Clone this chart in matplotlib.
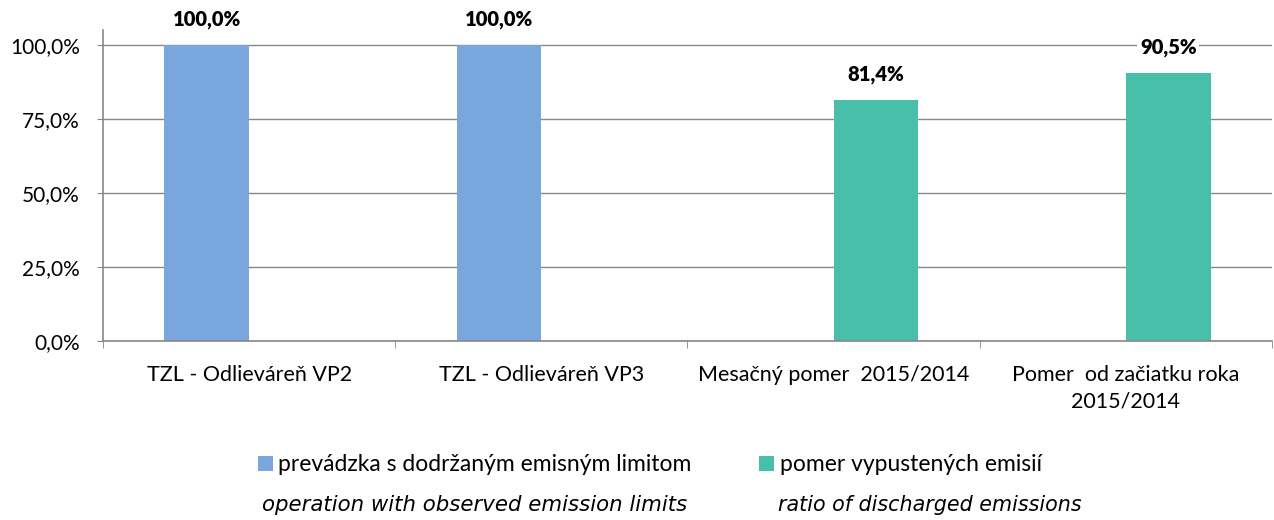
import numpy as np
import matplotlib
matplotlib.use("Agg")
import matplotlib.pyplot as plt
from matplotlib.ticker import FuncFormatter

plt.rcParams['font.family'] = ['Lato', 'DejaVu Sans']

# data
categories = ["TZL - Odlieváreň VP2", "TZL - Odlieváreň VP3",
              "Mesačný pomer  2015/2014", "Pomer  od začiatku roka\n2015/2014"]
limit_ok = [1.0, 1.0, np.nan, np.nan]        # prevádzka s dodržaným emisným limitom
emis_ratio = [np.nan, np.nan, 0.814, 0.905]  # pomer vypustených emisií
series_names = ["prevádzka s dodržaným emisným limitom", "pomer vypustených emisií"]
series_en = ["operation with observed emission limits", "ratio of discharged emissions"]

blue = "#7AA6DE"
green = "#48BFA8"
grid_c = "#878787"

fig = plt.figure(figsize=(12.74, 5.2), dpi=100)
ax = fig.add_axes([0.0808, 0.3442, 0.9176, 0.5981])

x = np.arange(len(categories))
w = 0.29
b1 = ax.bar(x - w / 2, limit_ok, w, color=blue, zorder=2)
b2 = ax.bar(x + w / 2, emis_ratio, w, color=green, zorder=2)

for bars, vals in ((b1, limit_ok), (b2, emis_ratio)):
    for rect, v in zip(bars, vals):
        if np.isnan(v):
            continue
        ax.annotate(f"{v * 100:.1f}%".replace(".", ","),
                    (rect.get_x() + rect.get_width() / 2, v),
                    xytext=(0, 18), textcoords="offset points",
                    ha="center", va="center", fontsize=14.5, fontweight="heavy",
                    bbox=dict(facecolor="white", edgecolor="none", pad=2),
                    zorder=4)

ax.set_xlim(-0.5, len(categories) - 0.5)
ax.set_ylim(0, 1.05)
ax.set_yticks([0, 0.25, 0.5, 0.75, 1.0])
ax.yaxis.set_major_formatter(FuncFormatter(lambda v, p: f"{v * 100:.1f}%".replace(".", ",")))
ax.tick_params(axis='y', length=4.5, color=grid_c, labelsize=15, pad=12)
ax.grid(axis='y', color=grid_c, linewidth=1, zorder=0)

ax.set_xticks(x)
ax.set_xticklabels(categories, fontsize=15.5, linespacing=1.45)
ax.set_xticks(np.arange(-0.5, len(categories)), minor=True)
ax.tick_params(axis='x', which='major', length=0, pad=17)
ax.tick_params(axis='x', which='minor', length=5, color=grid_c, direction='out')

for s in ['top', 'right']:
    ax.spines[s].set_visible(False)
for s in ['left', 'bottom']:
    ax.spines[s].set_color(grid_c)
    ax.spines[s].set_linewidth(1.2)

fig.legend([b1, b2], series_names, ncol=2, loc='center', bbox_to_anchor=(0.51, 0.106),
           frameon=False, fontsize=16.5, handlelength=0.65, handleheight=0.65,
           handletextpad=0.25, columnspacing=2.95)

it_family = ['Liberation Sans Narrow', 'DejaVu Sans']
fig.text(0.2057, 0.029, series_en[0], fontsize=15.3, style='italic',
         family=it_family, ha='left', va='center')
fig.text(0.6107, 0.029, series_en[1], fontsize=14.9, style='italic',
         family=it_family, ha='left', va='center')

fig.savefig("out.png", dpi=100)
